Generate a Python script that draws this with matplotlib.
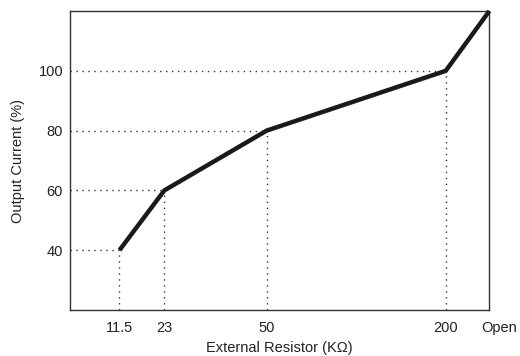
import matplotlib
matplotlib.use('Agg')
import matplotlib.pyplot as plt
import matplotlib.transforms as mtransforms

# resistor settings (tick labels) and where they sit along the x axis
resistor_labels = ['11.5', '23', '50', '200', 'Open']
resistor_pos = [1.18, 2.25, 4.69, 8.96, 10.0]
current_pct = [40, 60, 80, 100, 120]
y_ticks = [40, 60, 80, 100]

plt.rcParams['font.family'] = ['Liberation Sans', 'DejaVu Sans']

fig = plt.figure(figsize=(5.2, 3.56), dpi=100)
ax = fig.add_axes([0.1346, 0.1292, 0.941 - 0.1346, 0.969 - 0.1292])

ax.set_xlim(0, 10)
ax.set_ylim(20, 120)

# dotted guides to each marked point (not the open end)
for x, y in zip(resistor_pos[:-1], current_pct[:-1]):
	ax.plot([0, x], [y, y], linestyle=(0, (1, 3.3)), color='#333333', linewidth=1.0, zorder=1)
	ax.plot([x, x], [20, y], linestyle=(0, (1, 3.3)), color='#333333', linewidth=1.0, zorder=1)

ax.plot(resistor_pos, current_pct, color='#1a1a1a', linewidth=3.2,
		solid_joinstyle='miter', solid_capstyle='butt', zorder=3, clip_on=False)

ax.set_xticks(resistor_pos)
ax.set_xticklabels(resistor_labels)
ax.set_yticks(y_ticks)
ax.tick_params(axis='both', length=0, labelsize=10.5, colors='#222222')
ax.tick_params(axis='x', pad=8)
ax.tick_params(axis='y', pad=5)

# "Open" sits a little to the right of the frame edge
open_lbl = ax.get_xticklabels()[-1]
open_lbl.set_transform(open_lbl.get_transform() +
					   mtransforms.ScaledTranslation(10 / 100, 0, fig.dpi_scale_trans))

for sp in ax.spines.values():
	sp.set_color('#333333')
	sp.set_linewidth(1.0)

ax.set_xlabel('External Resistor (K\u03a9)', fontsize=10.5, color='#222222', labelpad=4)
ax.set_ylabel('Output Current (%)', fontsize=10.5, color='#222222', labelpad=10)

fig.savefig('out.png', dpi=100)
